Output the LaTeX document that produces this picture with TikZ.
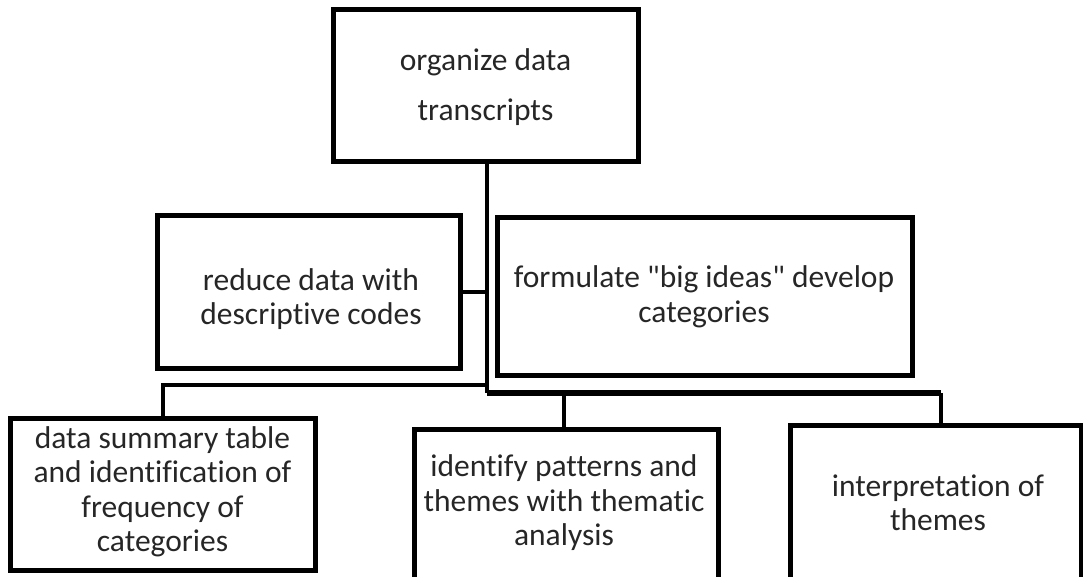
\documentclass[tikz,border=0pt]{standalone}
\usepackage{fontspec}
\setmainfont[Ligatures={TeXOff,NoCommon}]{Carlito}
\begin{document}
\begin{tikzpicture}[x=1pt,y=-1pt,
  box/.style={draw, line width=5pt, inner sep=0pt, align=center, rectangle},
  txt/.style={align=center, inner sep=0pt, font=\fontsize{31.5}{34.5}\selectfont, text=black!85},
  link/.style={line width=4pt},
  thick link/.style={line width=6pt}]
\useasboundingbox (0,0) rectangle (1083,577);
\clip (0,0) rectangle (1083,577);
% boxes
\node[box, minimum width=305pt, minimum height=152pt] (top) at (485.5,86) {};
\node[txt, font=\fontsize{31.5}{50}\selectfont] (topt) at (485.5,87) {organize data\\transcripts};
\node[box, minimum width=303pt, minimum height=152pt] (reduce) at (308.5,292) {};
\node[txt] (reducet) at (311,299) {reduce data with\\descriptive codes};
\node[box, minimum width=415pt, minimum height=157pt] (form) at (704.5,296.5) {};
\node[txt] (formt) at (704,297) {formulate "big ideas" develop\\categories};
\node[box, minimum width=305pt, minimum height=152pt] (data) at (162.5,494) {};
\node[txt] (datat) at (162.5,492) {data summary table\\and identification of\\frequency of\\categories};
\node[box, minimum width=304pt, minimum height=200pt, anchor=north west] (ident) at (412,427) {};
\node[txt] (identt) at (564,503) {identify patterns and\\themes with thematic\\analysis};
\node[box, minimum width=291pt, minimum height=200pt, anchor=north west] (interp) at (788,423) {};
\node[txt] (interpt) at (938,503) {interpretation of\\themes};
% junctions
\coordinate (j1) at (487,292);
\coordinate (j2) at (487,385);
\coordinate (j3) at (487,393);
\coordinate (j4) at (564,393);
\coordinate (j5) at (941,393);
% connectors
\draw[link] (top.south -| j1) -- (j3);
\draw[link] (reduce.east) -- (j1);
\draw[link] (j2) -| (data.north);
\draw[thick link] (j3) -- (j5);
\draw[link] (j4) -- (j4 |- ident.north);
\draw[link] (j5) -- (j5 |- interp.north);
\end{tikzpicture}
\end{document}
